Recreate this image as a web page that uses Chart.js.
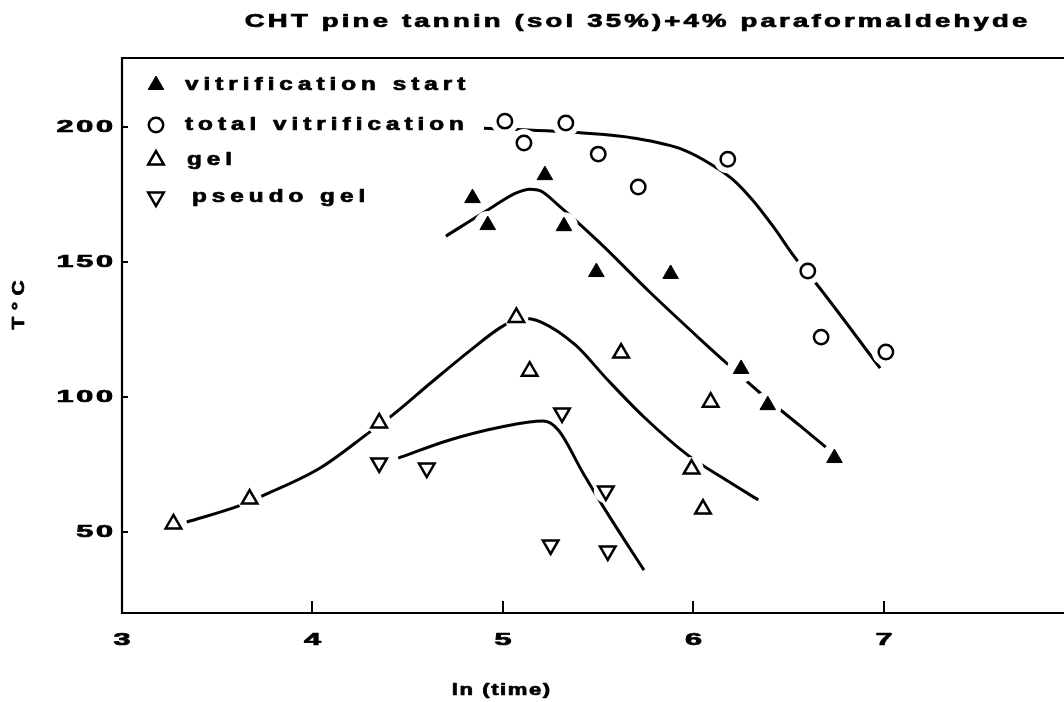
<!DOCTYPE html>
<html>
<head>
<meta charset="utf-8">
<script src="https://cdn.jsdelivr.net/npm/chart.js@4.4.1/dist/chart.umd.min.js"></script>
<style>
  html, body { margin: 0; padding: 0; background: #fff; }
  #wrap { width: 1064px; height: 702px; position: relative; }
</style>
</head>
<body>
<div id="wrap"><canvas id="c" width="1064" height="702"></canvas></div>
<script>
// ---- text ----
const titleText = 'CHT pine tannin (sol 35%)+4% paraformaldehyde';
const xTitle = 'ln (time)';
const yTitle = 'T°C';
const seriesNames = ['vitrification start', 'total vitrification', 'gel', 'pseudo gel'];

// ---- axes ----
const xTicks = [3, 4, 5, 6, 7];
const yTicks = [50, 100, 150, 200];

// ---- measured points: ln(time) vs temperature ----
const vitStartX = [4.84, 4.92, 5.22, 5.32, 5.49, 5.88, 6.25, 6.39, 6.74];
const vitStartY = [173.7, 163.7, 182.2, 163.3, 146.3, 145.6, 110.4, 97.0, 77.4];

const totalVitX = [5.01, 5.11, 5.33, 5.50, 5.71, 6.18, 6.60, 6.67, 7.01];
const totalVitY = [202.2, 194.1, 201.5, 190.0, 177.8, 188.1, 146.7, 122.2, 116.7];

const gelX = [3.27, 3.67, 4.35, 5.07, 5.14, 5.62, 6.09, 5.99, 6.05];
const gelY = [53.0, 62.2, 90.4, 129.5, 109.6, 116.3, 98.1, 73.3, 58.5];

const pseudoGelX = [4.35, 4.60, 5.31, 5.54, 5.25, 5.55];
const pseudoGelY = [75.6, 73.7, 94.1, 65.2, 45.2, 43.0];

// ---- hand-drawn trend curves (sampled along each curve) ----
const vitStartCurveX = [4.70, 4.92, 5.07, 5.14, 5.20, 5.29, 5.51, 5.77, 6.04, 6.19, 6.35, 6.56, 6.72];
const vitStartCurveY = [159.6, 169.3, 175.6, 177.0, 176.3, 171.1, 157.0, 138.9, 121.1, 111.5, 101.5, 89.3, 80.0];

const totalVitCurveX = [4.90, 5.42, 5.69, 5.95, 6.10, 6.21, 6.31, 6.42, 6.53, 6.65, 6.98];
const totalVitCurveY = [199.6, 197.8, 195.9, 191.5, 185.9, 180.4, 173.0, 163.0, 151.9, 141.5, 110.7];

const gelCurveX = [3.34, 3.61, 3.76, 4.04, 4.30, 4.42, 4.62, 4.83, 4.99, 5.09, 5.20, 5.38, 5.55, 5.74, 5.97, 6.18, 6.34];
const gelCurveY = [53.7, 59.6, 64.1, 73.7, 87.0, 93.3, 105.2, 117.4, 125.9, 129.3, 127.8, 119.3, 106.3, 92.6, 78.5, 68.9, 61.9];

const pseudoGelCurveX = [4.45, 4.72, 4.99, 5.21, 5.29, 5.42, 5.56, 5.74];
const pseudoGelCurveY = [77.4, 84.1, 88.9, 91.1, 87.8, 71.9, 55.6, 35.9];

const pts = (xs, ys) => xs.map((x, i) => ({ x: x, y: ys[i] }));

const INK = '#000';
const PAPER = '#fff';

// marker styles, shared by plot and key
const markerStyles = [
  { pointStyle: 'triangle', radius: 9,   rotation: 0,   fill: INK,   border: 1.0, halo: 14 },
  { pointStyle: 'circle',   radius: 7.2, rotation: 0,   fill: PAPER, border: 2.5, halo: 14 },
  { pointStyle: 'triangle', radius: 9,   rotation: 0,   fill: PAPER, border: 2.5, halo: 12 },
  { pointStyle: 'triangle', radius: 9,   rotation: 180, fill: PAPER, border: 2.5, halo: 12 }
];
const markerData = [
  pts(vitStartX, vitStartY),
  pts(totalVitX, totalVitY),
  pts(gelX, gelY),
  pts(pseudoGelX, pseudoGelY)
];
const curveData = [
  pts(vitStartCurveX, vitStartCurveY),
  pts(totalVitCurveX, totalVitCurveY),
  pts(gelCurveX, gelCurveY),
  pts(pseudoGelCurveX, pseudoGelCurveY)
];

const datasets = [];
// curves (bottom layer)
curveData.forEach((d, i) => datasets.push({
  label: seriesNames[i] + ' curve',
  data: d,
  showLine: true,
  borderColor: INK,
  borderWidth: 3,
  cubicInterpolationMode: 'monotone',
  pointRadius: 0,
  pointHoverRadius: 0,
  fill: false,
  order: 3
}));
// white halos that break the curves around each symbol
markerData.forEach((d, i) => datasets.push({
  label: seriesNames[i] + ' halo',
  data: d,
  showLine: false,
  pointStyle: 'circle',
  pointRadius: markerStyles[i].halo,
  pointHoverRadius: markerStyles[i].halo,
  pointBackgroundColor: PAPER,
  pointBorderColor: PAPER,
  pointBorderWidth: 0,
  order: 2
}));
// symbols (top layer)
markerData.forEach((d, i) => {
  const s = markerStyles[i];
  datasets.push({
    label: seriesNames[i],
    data: d,
    showLine: false,
    pointStyle: s.pointStyle,
    pointRadius: s.radius,
    pointHoverRadius: s.radius,
    pointRotation: s.rotation,
    pointBackgroundColor: s.fill,
    pointBorderColor: INK,
    pointBorderWidth: s.border,
    order: 1
  });
});

// stretched, letter-spaced heavy text
function paperText(ctx, text, x, y, o) {
  ctx.save();
  ctx.font = 'bold ' + o.size + 'px "Liberation Sans", Arial, sans-serif';
  const ls = o.ls || 0;
  ctx.letterSpacing = ls + 'px';
  ctx.fillStyle = INK;
  ctx.strokeStyle = INK;
  ctx.lineWidth = o.weight || 0.7;
  ctx.lineJoin = 'round';
  ctx.textBaseline = 'middle';
  ctx.textAlign = 'left';
  const w = ctx.measureText(text).width - ls;
  ctx.translate(x, y);
  if (o.rot) ctx.rotate(o.rot);
  ctx.scale(o.sx || 1, 1);
  const left = o.align === 'center' ? -w / 2 : (o.align === 'right' ? -w : 0);
  ctx.fillText(text, left, 0);
  ctx.strokeText(text, left, 0);
  ctx.restore();
}

function drawSymbol(ctx, s, x, y) {
  ctx.save();
  ctx.beginPath();
  if (s.pointStyle === 'circle') {
    ctx.arc(x, y, s.radius, 0, Math.PI * 2);
  } else {
    let a = s.rotation * Math.PI / 180;
    for (let k = 0; k < 3; k++) {
      const px = x + Math.sin(a) * s.radius;
      const py = y - Math.cos(a) * s.radius;
      if (k === 0) ctx.moveTo(px, py); else ctx.lineTo(px, py);
      a += 2 * Math.PI / 3;
    }
    ctx.closePath();
  }
  ctx.fillStyle = s.fill;
  ctx.fill();
  ctx.lineWidth = s.border;
  ctx.strokeStyle = INK;
  ctx.stroke();
  ctx.restore();
}

const paperFrame = {
  id: 'paperFrame',
  beforeDraw(chart) {
    const ctx = chart.ctx;
    ctx.save();
    ctx.fillStyle = PAPER;
    ctx.fillRect(0, 0, chart.width, chart.height);
    ctx.restore();
  },
  afterDraw(chart) {
    const ctx = chart.ctx;
    const a = chart.chartArea;
    const xs = chart.scales.x, ys = chart.scales.y;

    // frame: left, top, bottom
    ctx.save();
    ctx.strokeStyle = INK;
    ctx.lineWidth = 2.2;
    ctx.lineCap = 'square';
    ctx.beginPath();
    ctx.moveTo(chart.width + 2, a.top);
    ctx.lineTo(a.left, a.top);
    ctx.lineTo(a.left, a.bottom);
    ctx.lineTo(chart.width + 2, a.bottom);
    ctx.stroke();

    // inward ticks
    ctx.lineWidth = 2;
    ctx.lineCap = 'butt';
    ctx.beginPath();
    xTicks.forEach(v => {
      const px = Math.round(xs.getPixelForValue(v));
      ctx.moveTo(px, a.bottom);
      ctx.lineTo(px, a.bottom - 12);
    });
    yTicks.forEach(v => {
      const py = Math.round(ys.getPixelForValue(v));
      ctx.moveTo(a.left, py);
      ctx.lineTo(a.left + 6, py);
    });
    ctx.stroke();
    ctx.restore();

    // tick labels
    xTicks.forEach(v => {
      paperText(ctx, String(v), xs.getPixelForValue(v), a.bottom + 27,
        { size: 17, sx: 1.8, ls: 0, align: 'center' });
    });
    yTicks.forEach(v => {
      paperText(ctx, String(v), a.left - 9, ys.getPixelForValue(v),
        { size: 17, sx: 1.8, ls: 1.5, align: 'right' });
    });

    // titles
    paperText(ctx, titleText, 636, 22, { size: 19, sx: 1.45, ls: 2.2, align: 'center' });
    paperText(ctx, xTitle, 501, 690, { size: 17, sx: 1.3, ls: 1.2, align: 'center' });
    paperText(ctx, yTitle, 20, 305, { size: 16, sx: 1.3, ls: 5, align: 'center', rot: -Math.PI / 2 });

    // key
    const keyRows = [85, 125, 160, 197];
    const keyTextX = [185, 185, 187, 192];
    seriesNames.forEach((name, i) => {
      drawSymbol(ctx, markerStyles[i], 156, keyRows[i]);
      paperText(ctx, name, keyTextX[i], keyRows[i], { size: 18, sx: 1.35, ls: 3.7, align: 'left' });
    });
  }
};

new Chart(document.getElementById('c'), {
  type: 'scatter',
  data: { datasets: datasets },
  options: {
    responsive: false,
    animation: false,
    devicePixelRatio: 1,
    events: [],
    layout: { autoPadding: false, padding: { left: 122, top: 58, right: 0, bottom: 89 } },
    scales: {
      x: { type: 'linear', min: 3, max: 7.945, display: false },
      y: { type: 'linear', min: 20, max: 225.6, display: false }
    },
    plugins: {
      legend: { display: false },
      tooltip: { enabled: false },
      title: { display: false }
    }
  },
  plugins: [paperFrame]
});
</script>
</body>
</html>
